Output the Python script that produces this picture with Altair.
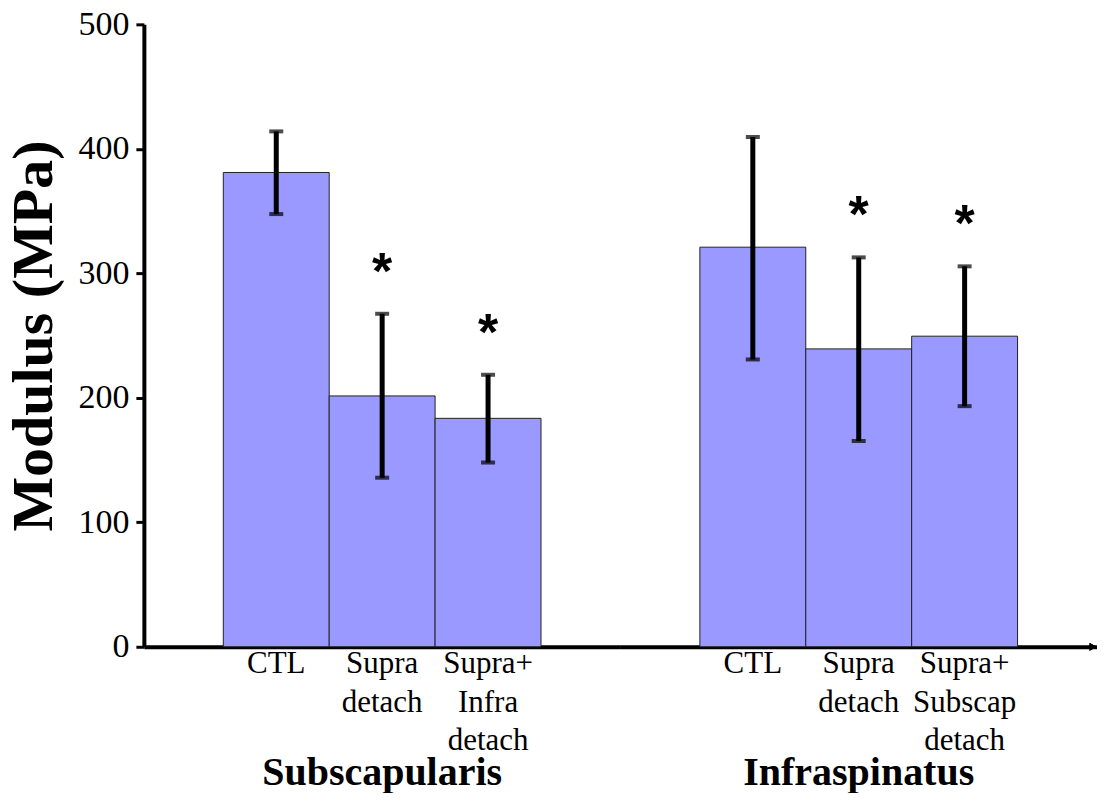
import altair as alt
import pandas as pd

groups = ["Subscapularis", "Subscapularis", "Subscapularis",
          "Infraspinatus", "Infraspinatus", "Infraspinatus"]
conditions = ["CTL", "Supra|detach", "Supra+|Infra|detach",
              "CTL", "Supra|detach", "Supra+|Subscap|detach"]
means = [381.0, 201.5, 183.5, 321.0, 239.3, 249.5]
upper = [414.0, 267.5, 218.5, 409.5, 312.8, 305.6]
lower = [347.6, 135.8, 148.0, 230.8, 165.3, 193.3]
sig = ["", "*", "*", "", "*", "*"]
y_ticks = [0, 100, 200, 300, 400, 500]

df = pd.DataFrame({
    "group": groups,
    "condition": conditions,
    "mean": means,
    "upper": upper,
    "lower": lower,
    "sig": sig,
})

serif = "Liberation Serif"
W, H = 477, 623

x_enc = alt.X(
    "condition:N",
    sort=None,
    scale=alt.Scale(paddingInner=0, paddingOuter=0.75),
    axis=alt.Axis(
        title=None,
        labelAngle=0,
        labelExpr="split(datum.label, '|')",
        labelFont=serif,
        labelFontSize=31,
        labelLineHeight=38.5,
        labelColor="black",
        labelBaseline="top",
        labelPadding=2,
        ticks=False,
        domainColor="black",
        domainWidth=4,
    ),
)

y_scale = alt.Scale(domain=[0, 500], nice=False)
y_axis = alt.Axis(
    title="Modulus (MPa)",
    titleFont=serif,
    titleFontSize=58,
    titleFontWeight="bold",
    titleColor="black",
    titlePadding=14,
    values=y_ticks,
    labelFont=serif,
    labelFontSize=34,
    labelColor="black",
    labelPadding=7,
    tickSize=8,
    tickWidth=3,
    tickColor="black",
    domainColor="black",
    domainWidth=4,
    grid=False,
)

bars = alt.Chart().mark_bar(
    color="#9999FF", stroke="#222222", strokeWidth=1
).encode(
    x=x_enc,
    y=alt.Y("mean:Q", scale=y_scale, axis=y_axis),
)

rules = alt.Chart().mark_rule(color="black", strokeWidth=5).encode(
    x=alt.X("condition:N", sort=None),
    y=alt.Y("lower:Q"),
    y2="upper:Q",
)

cap_top = alt.Chart().mark_tick(
    color="black", size=14, thickness=4, orient="horizontal"
).encode(
    x=alt.X("condition:N", sort=None),
    y=alt.Y("upper:Q"),
)
cap_bot = alt.Chart().mark_tick(
    color="black", size=14, thickness=4, orient="horizontal"
).encode(
    x=alt.X("condition:N", sort=None),
    y=alt.Y("lower:Q"),
)

stars = alt.Chart().mark_text(
    font="Liberation Sans", fontSize=52, fontWeight="bold", color="black",
    baseline="middle", dy=-41
).encode(
    x=alt.X("condition:N", sort=None),
    y=alt.Y("upper:Q"),
    text="sig:N",
)

arrow = alt.Chart().transform_filter(
    alt.datum.group == "Infraspinatus"
).mark_point(
    shape="triangle-right", filled=True, color="black", size=60, opacity=1
).encode(
    x=alt.value(W - 4),
    y=alt.value(H),
)

layer = alt.layer(bars, rules, cap_top, cap_bot, stars, arrow).properties(
    width=W, height=H
)

chart = layer.facet(
    data=df,
    column=alt.Column(
        "group:N",
        sort=["Subscapularis", "Infraspinatus"],
        title=None,
        header=alt.Header(
            labelOrient="bottom",
            labelFont=serif,
            labelFontSize=40,
            labelFontWeight="bold",
            labelColor="black",
            labelPadding=-3,
        ),
    ),
    spacing=0,
).resolve_scale(x="independent").configure_view(
    stroke=None
).properties(
    padding={"left": -2, "top": -1, "right": 0, "bottom": 0}
)

chart.save("out.html", embed_options={"renderer": "svg", "actions": False})
